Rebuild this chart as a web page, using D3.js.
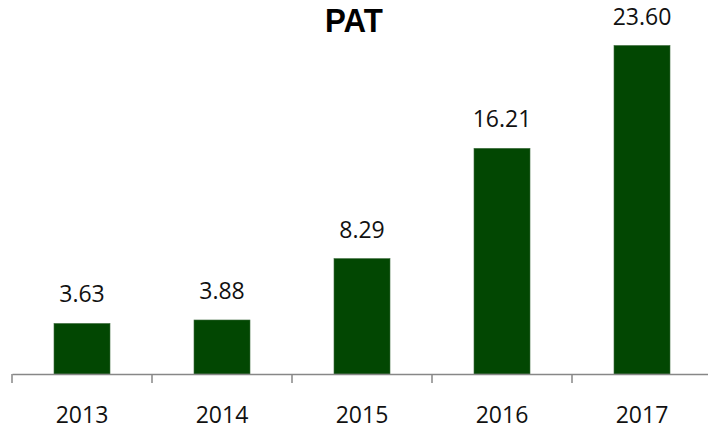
<!DOCTYPE html>
<html>
<head>
<meta charset="utf-8">
<script src="https://cdn.jsdelivr.net/npm/d3@7"></script>
<style>
  html, body { margin: 0; padding: 0; background: #fff; }
  svg { display: block; }
</style>
</head>
<body>
<script>
// Profit after tax by financial year
const years = ["2013", "2014", "2015", "2016", "2017"];
const pat = [3.63, 3.88, 8.29, 16.21, 23.60];
const yMax = 25;

const width = 708, height = 431;
const font = "'Open Sans', Lato, sans-serif";

const svg = d3.select("body").append("svg")
  .attr("width", width)
  .attr("height", height);

const x = d3.scaleBand().domain(years).range([12, 712]).paddingInner(0).paddingOuter(0);
const y = d3.scaleLinear().domain([0, yMax]).range([374, 26]);
const barW = x.bandwidth() * 0.4;

// Title (slightly condensed bold)
svg.append("text")
  .attr("transform", "translate(354,32) scale(0.92,1)")
  .attr("text-anchor", "middle")
  .style("font-family", "Arial, 'Liberation Sans', sans-serif")
  .style("font-weight", "bold")
  .style("font-size", "34px")
  .style("fill", "#000")
  .text("PAT");

// Bars
svg.append("g").selectAll("rect")
  .data(years.map((yr, i) => ({ yr, v: pat[i] })))
  .join("rect")
  .attr("x", d => x(d.yr) + (x.bandwidth() - barW) / 2)
  .attr("y", d => y(d.v))
  .attr("width", barW)
  .attr("height", d => y(0) - y(d.v))
  .attr("fill", "#024702")
  .attr("stroke", "#3d6b3d")
  .attr("stroke-width", 0.6);

// Value labels
svg.append("g").selectAll("text")
  .data(years.map((yr, i) => ({ yr, v: pat[i] })))
  .join("text")
  .attr("x", d => x(d.yr) + x.bandwidth() / 2)
  .attr("y", d => y(d.v) - 21)
  .attr("text-anchor", "middle")
  .style("font-family", font)
  .style("font-size", "23px")
  .style("fill", "#111")
  .text(d => d.v.toFixed(2));

// Category axis
const axis = d3.axisBottom(x).tickSize(0).tickPadding(0);
const gx = svg.append("g").attr("transform", `translate(0,${y(0)})`).call(axis);
gx.select(".domain").attr("stroke", "#878787").attr("stroke-width", 1.5);
gx.selectAll(".tick text")
  .attr("y", 49)
  .attr("dy", 0)
  .style("font-family", font)
  .style("font-size", "23px")
  .style("fill", "#111");

// Divider ticks between categories
const bounds = years.map(yr => x(yr)).concat([x.range()[1]]);
gx.selectAll(".divider")
  .data(bounds)
  .join("line")
  .attr("class", "divider")
  .attr("x1", d => d).attr("x2", d => d)
  .attr("y1", 0).attr("y2", 9)
  .attr("stroke", "#878787")
  .attr("stroke-width", 1.5);
</script>
</body>
</html>
